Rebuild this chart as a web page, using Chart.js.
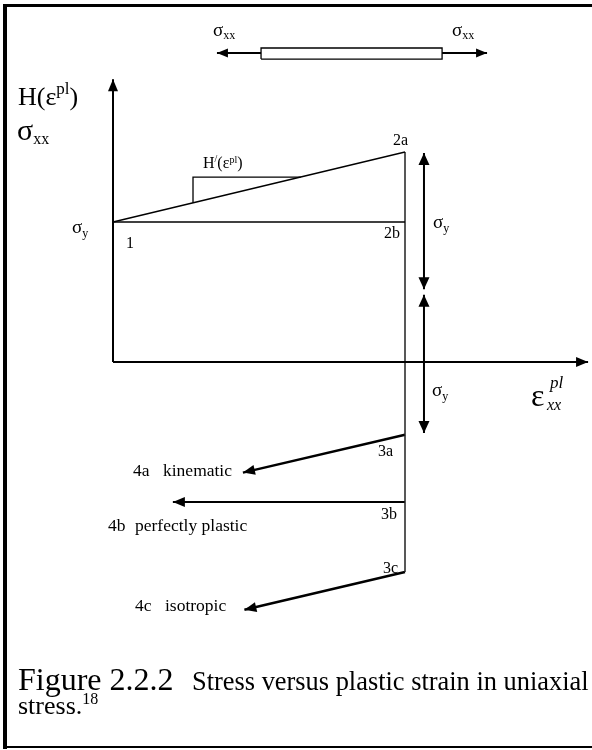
<!DOCTYPE html>
<html><head><meta charset="utf-8">
<script src="https://cdn.jsdelivr.net/npm/chart.js@4.4.0/dist/chart.umd.min.js"></script>
<style>html,body{margin:0;padding:0;background:#fff;}canvas{display:block;}</style>
</head><body>
<canvas id="c" width="592" height="750"></canvas>
<script>
// ---- Data (plastic strain in units of strain at 2a, stress in units of sigma_y) ----
const axisXStrain = [0, 1.627];
const axisXStress = [0, 0];
const axisYStrain = [0, 0];
const axisYStress = [0, 2.02];
const hardeningStrain = [0, 1.0];          // 1 -> 2a
const hardeningStress = [1.0, 1.5];
const perfectStrain = [0, 1.0];            // 1 -> 2b
const perfectStress = [1.0, 1.0];
const unloadStrain = [1.0, 1.0];           // 2a -> 3c
const unloadStress = [1.5, -1.5];
const slopeTriStrain = [0.274, 0.274, 0.643];
const slopeTriStress = [1.137, 1.321, 1.321];
const kinematicStrain = [1.0, 0.445];      // 3a -> 4a
const kinematicStress = [-0.52, -0.79];
const perfectRevStrain = [1.0, 0.205];     // 3b -> 4b
const perfectRevStress = [-1.0, -1.0];
const isotropicStrain = [1.0, 0.45];       // 3c -> 4c
const isotropicStress = [-1.5, -1.77];
const yieldSpanStrain = [1.065, 1.065];
const yieldSpanUpper = [1.493, 0.52];
const yieldSpanLower = [0.48, -0.507];
const barStrain = [0.507, 1.127, 1.127, 0.507, 0.507];
const barStress = [2.164, 2.164, 2.243, 2.243, 2.164];
const barLeftStrain = [0.507, 0.356];
const barRightStrain = [1.127, 1.281];
const barArrowStress = [2.207, 2.207];
const pointNames = ['1', '2a', '2b', '3a', '3b', '3c'];
const pointStrain = [0, 1.0, 1.0, 1.0, 1.0, 1.0];
const pointStress = [1.0, 1.5, 1.0, -0.52, -1.0, -1.5];

function pts(xs, ys) { return xs.map((x, i) => ({ x: x, y: ys[i] })); }
function ds(xs, ys, w, extra) {
  return Object.assign({ data: pts(xs, ys), showLine: true, borderColor: '#000', backgroundColor: '#000',
    borderWidth: w, pointRadius: 0, fill: false, tension: 0 }, extra || {});
}

const datasets = [
  ds(axisYStrain, axisYStress, 2, { arrow: 'end', head: [12, 5] }),
  ds(axisXStrain, axisXStress, 2, { arrow: 'end', head: [12, 5] }),
  ds(hardeningStrain, hardeningStress, 1.3),
  ds(perfectStrain, perfectStress, 1.3),
  ds(unloadStrain, unloadStress, 1.5, { borderColor: '#222' }),
  ds(slopeTriStrain, slopeTriStress, 1.3),
  ds(kinematicStrain, kinematicStress, 2.5, { arrow: 'end', head: [12, 5] }),
  ds(perfectRevStrain, perfectRevStress, 2.2, { arrow: 'end', head: [12, 5] }),
  ds(isotropicStrain, isotropicStress, 2.5, { arrow: 'end', head: [12, 5] }),
  ds(yieldSpanStrain, yieldSpanUpper, 2, { arrow: 'both', head: [12, 5.5] }),
  ds(yieldSpanStrain, yieldSpanLower, 2, { arrow: 'both', head: [12, 5.5] }),
  ds(barStrain, barStress, 1.3),
  ds(barLeftStrain, barArrowStress, 2, { arrow: 'end', head: [11, 4.5] }),
  ds(barRightStrain, barArrowStress, 2, { arrow: 'end', head: [11, 4.5] })
];

const FONT = '"Liberation Serif", "Times New Roman", serif';
function rich(ctx, x, y, parts, align) {
  let total = 0;
  const ws = parts.map(p => { ctx.font = (p[3] || '') + ' ' + p[1] + 'px ' + FONT; const w = ctx.measureText(p[0]).width; total += w; return w; });
  let cx = align === 'right' ? x - total : x;
  parts.forEach((p, i) => { ctx.font = (p[3] || '') + ' ' + p[1] + 'px ' + FONT; ctx.fillText(p[0], cx, y + (p[2] || 0)); cx += ws[i]; });
}
function head(ctx, tip, from, len, hw) {
  const a = Math.atan2(tip.y - from.y, tip.x - from.x);
  ctx.beginPath();
  ctx.moveTo(tip.x, tip.y);
  ctx.lineTo(tip.x - len * Math.cos(a) + hw * Math.sin(a), tip.y - len * Math.sin(a) - hw * Math.cos(a));
  ctx.lineTo(tip.x - len * Math.cos(a) - hw * Math.sin(a), tip.y - len * Math.sin(a) + hw * Math.cos(a));
  ctx.closePath();
  ctx.fill();
}

const diagramPlugin = {
  id: 'diagram',
  beforeDraw(chart) {
    const ctx = chart.ctx;
    ctx.save(); ctx.fillStyle = '#fff'; ctx.fillRect(0, 0, chart.width, chart.height); ctx.restore();
  },
  afterDatasetsDraw(chart) {
    const ctx = chart.ctx, xs = chart.scales.x, ys = chart.scales.y;
    ctx.save();
    ctx.fillStyle = '#000';
    chart.data.datasets.forEach((d, i) => {
      if (!d.arrow) return;
      const p = chart.getDatasetMeta(i).data, n = p.length;
      if (d.arrow === 'end' || d.arrow === 'both') head(ctx, p[n - 1], p[n - 2], d.head[0], d.head[1]);
      if (d.arrow === 'both') head(ctx, p[0], p[1], d.head[0], d.head[1]);
    });
    // frame
    ctx.fillRect(3, 4, 589, 3);
    ctx.fillRect(3, 4, 4, 745);
    ctx.fillRect(3, 746, 589, 2);

    ctx.textBaseline = 'alphabetic';
    // point labels, anchored to the data points
    const offs = { '1': [13, 26, 'left'], '2a': [3, -7, 'right'], '2b': [-5, 16, 'right'], '3a': [-12, 21, 'right'], '3b': [-8, 17, 'right'], '3c': [-7, 1, 'right'] };
    pointNames.forEach((nm, i) => {
      const px = xs.getPixelForValue(pointStrain[i]), py = ys.getPixelForValue(pointStress[i]);
      const o = offs[nm];
      rich(ctx, px + o[0], py + o[1], [[nm, 16, 0]], o[2]);
    });
    // top bar labels
    rich(ctx, 213, 36, [['σ', 19, 0], ['xx', 12, 3]]);
    rich(ctx, 452, 36, [['σ', 19, 0], ['xx', 12, 3]]);
    // y axis title
    rich(ctx, 18, 105, [['H(ε', 26, 0], ['pl', 17, -11], [')', 26, 0]]);
    rich(ctx, 17, 140, [['σ', 30, 0], ['xx', 16, 4]]);
    // sigma_y labels
    rich(ctx, 72, 233, [['σ', 19, 0], ['y', 12, 4]]);
    rich(ctx, 433, 228, [['σ', 19, 0], ['y', 12, 4]]);
    rich(ctx, 432, 396, [['σ', 19, 0], ['y', 12, 4]]);
    // slope label
    rich(ctx, 203, 168, [['H', 16, 0], ['/', 10, -6], ['(ε', 16, 0], ['pl', 10, -5], [')', 16, 0]]);
    // x axis title
    rich(ctx, 531, 406, [['ε', 32, 0]]);
    rich(ctx, 550, 388, [['pl', 17, 0, 'italic']]);
    rich(ctx, 547, 410, [['xx', 16, 0, 'italic']]);
    // branch labels
    rich(ctx, 133, 476, [['4a', 17.5, 0]]);
    rich(ctx, 163, 476, [['kinematic', 17.5, 0]]);
    rich(ctx, 108, 531, [['4b', 17.5, 0]]);
    rich(ctx, 135, 531, [['perfectly plastic', 17.5, 0]]);
    rich(ctx, 135, 611, [['4c', 17.5, 0]]);
    rich(ctx, 165, 611, [['isotropic', 17.5, 0]]);
    // caption
    rich(ctx, 18, 690, [['Figure 2.2.2', 32, 0]]);
    rich(ctx, 192, 690, [['Stress versus plastic strain in uniaxial', 26.4, 0]]);
    rich(ctx, 18, 714, [['stress.', 26, 0], ['18', 16, -10]]);
    ctx.restore();
  }
};

new Chart(document.getElementById('c').getContext('2d'), {
  type: 'scatter',
  data: { datasets: datasets },
  options: {
    responsive: false,
    animation: false,
    devicePixelRatio: 1,
    layout: { padding: 0 },
    plugins: { legend: { display: false }, tooltip: { enabled: false } },
    scales: {
      x: { type: 'linear', display: false, bounds: 'data', min: -113 / 292, max: 479 / 292 },
      y: { type: 'linear', display: false, bounds: 'data', min: -388 / 140, max: 362 / 140 }
    }
  },
  plugins: [diagramPlugin]
});
</script>
</body></html>
